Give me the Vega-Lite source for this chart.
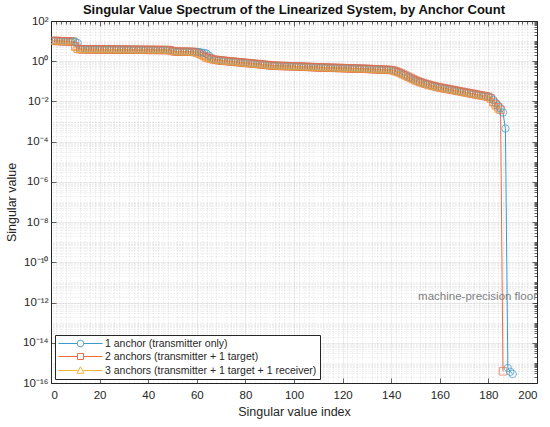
{
  "$schema": "https://vega.github.io/schema/vega-lite/v6.json",
  "width": 486,
  "height": 362,
  "autosize": "none",
  "padding": {"left": 51, "top": 21, "right": 13, "bottom": 44},
  "background": "white",
  "config": {
    "font": "Liberation Sans",
    "view": {"stroke": "#262626", "strokeWidth": 1},
    "axis": {
      "domain": false,
      "labelFontSize": 11.5,
      "labelColor": "#262626",
      "titleFontSize": 12.5,
      "titleFontWeight": "normal",
      "titleColor": "#262626",
      "tickColor": "#262626",
      "tickWidth": 0.7,
      "gridColor": "#262626"
    }
  },
  "title": {
    "text": "Singular Value Spectrum of the Linearized System, by Anchor Count",
    "fontSize": 13,
    "fontWeight": "bold",
    "color": "#111111",
    "offset": -2
  },
  "datasets": {
    "sv": [
      {"i":1,"a":10.3,"b":10.3,"c":10.3},{"i":2,"a":10.2,"b":10.2,"c":10.2},{"i":3,"a":10.1,"b":10.1,"c":10.1},
      {"i":4,"a":10.0,"b":10.0,"c":10.0},{"i":5,"a":9.9,"b":9.9,"c":9.9},{"i":6,"a":9.8,"b":9.8,"c":9.8},
      {"i":7,"a":9.7,"b":9.7,"c":9.7},{"i":8,"a":9.6,"b":9.6,"c":9.6},{"i":9,"a":9.5,"b":9.5,"c":9.5},
      {"i":10,"a":9.3,"b":5.5,"c":5.0},{"i":11,"a":8.0,"b":4.1,"c":4.0},
      {"i":12,"a":3.95,"b":3.95,"c":3.95},{"i":13,"a":3.94,"b":3.94,"c":3.94},{"i":14,"a":3.93,"b":3.93,"c":3.93},
      {"i":15,"a":3.92,"b":3.92,"c":3.92},{"i":16,"a":3.91,"b":3.91,"c":3.91},{"i":17,"a":3.90,"b":3.90,"c":3.90},
      {"i":18,"a":3.89,"b":3.89,"c":3.89},{"i":19,"a":3.88,"b":3.88,"c":3.88},{"i":20,"a":3.87,"b":3.87,"c":3.87},
      {"i":21,"a":3.86,"b":3.86,"c":3.86},{"i":22,"a":3.85,"b":3.85,"c":3.85},{"i":23,"a":3.84,"b":3.84,"c":3.84},
      {"i":24,"a":3.83,"b":3.83,"c":3.83},{"i":25,"a":3.82,"b":3.82,"c":3.82},{"i":26,"a":3.81,"b":3.81,"c":3.81},
      {"i":27,"a":3.80,"b":3.80,"c":3.80},{"i":28,"a":3.79,"b":3.79,"c":3.79},{"i":29,"a":3.78,"b":3.78,"c":3.78},
      {"i":30,"a":3.77,"b":3.77,"c":3.77},{"i":31,"a":3.76,"b":3.76,"c":3.76},{"i":32,"a":3.75,"b":3.75,"c":3.75},
      {"i":33,"a":3.74,"b":3.74,"c":3.74},{"i":34,"a":3.73,"b":3.73,"c":3.73},{"i":35,"a":3.72,"b":3.72,"c":3.72},
      {"i":36,"a":3.71,"b":3.71,"c":3.71},{"i":37,"a":3.70,"b":3.70,"c":3.70},{"i":38,"a":3.69,"b":3.69,"c":3.69},
      {"i":39,"a":3.68,"b":3.68,"c":3.68},{"i":40,"a":3.67,"b":3.67,"c":3.67},{"i":41,"a":3.66,"b":3.66,"c":3.66},
      {"i":42,"a":3.65,"b":3.65,"c":3.65},{"i":43,"a":3.64,"b":3.64,"c":3.64},{"i":44,"a":3.63,"b":3.63,"c":3.63},
      {"i":45,"a":3.62,"b":3.62,"c":3.62},{"i":46,"a":3.61,"b":3.61,"c":3.61},{"i":47,"a":3.60,"b":3.60,"c":3.60},
      {"i":48,"a":3.59,"b":3.59,"c":3.59},{"i":49,"a":3.58,"b":3.58,"c":3.58},{"i":50,"a":3.25,"b":3.2,"c":3.15},
      {"i":51,"a":3.05,"b":3.05,"c":3.03},{"i":52,"a":3.0,"b":3.0,"c":3.0},{"i":53,"a":2.99,"b":2.99,"c":2.99},
      {"i":54,"a":2.98,"b":2.98,"c":2.98},{"i":55,"a":2.97,"b":2.97,"c":2.97},{"i":56,"a":2.96,"b":2.96,"c":2.96},
      {"i":57,"a":2.95,"b":2.95,"c":2.95},{"i":58,"a":2.94,"b":2.94,"c":2.94},
      {"i":59,"a":2.92,"b":2.85,"c":2.8},{"i":60,"a":2.9,"b":2.7,"c":2.62},{"i":61,"a":2.8,"b":2.45,"c":2.38},
      {"i":62,"a":2.7,"b":2.1,"c":2.04},{"i":63,"a":2.6,"b":1.8,"c":1.75},{"i":64,"a":2.4,"b":1.55,"c":1.5},
      {"i":65,"a":1.9,"b":1.4,"c":1.36},{"i":66,"a":1.45,"b":1.3,"c":1.27},
      {"i":67,"a":1.22,"b":1.22,"c":1.22},{"i":68,"a":1.16,"b":1.16,"c":1.16},{"i":69,"a":1.12,"b":1.12,"c":1.12},
      {"i":70,"a":1.09,"b":1.09,"c":1.09},{"i":71,"a":1.06,"b":1.06,"c":1.06},{"i":72,"a":1.03,"b":1.03,"c":1.03},
      {"i":73,"a":1.0,"b":1.0,"c":1.0},{"i":74,"a":0.975,"b":0.975,"c":0.975},{"i":75,"a":0.95,"b":0.95,"c":0.95},
      {"i":76,"a":0.925,"b":0.925,"c":0.925},{"i":77,"a":0.9,"b":0.9,"c":0.9},{"i":78,"a":0.88,"b":0.88,"c":0.88},
      {"i":79,"a":0.855,"b":0.855,"c":0.855},{"i":80,"a":0.83,"b":0.83,"c":0.83},{"i":81,"a":0.81,"b":0.81,"c":0.81},
      {"i":82,"a":0.79,"b":0.79,"c":0.79},{"i":83,"a":0.77,"b":0.77,"c":0.77},{"i":84,"a":0.745,"b":0.745,"c":0.745},
      {"i":85,"a":0.725,"b":0.725,"c":0.725},{"i":86,"a":0.705,"b":0.705,"c":0.705},{"i":87,"a":0.685,"b":0.685,"c":0.685},
      {"i":88,"a":0.665,"b":0.665,"c":0.665},{"i":89,"a":0.645,"b":0.645,"c":0.645},{"i":90,"a":0.625,"b":0.625,"c":0.625},
      {"i":91,"a":0.61,"b":0.61,"c":0.61},{"i":92,"a":0.6,"b":0.6,"c":0.6},{"i":93,"a":0.59,"b":0.59,"c":0.59},
      {"i":94,"a":0.585,"b":0.585,"c":0.585},{"i":95,"a":0.58,"b":0.58,"c":0.58},{"i":96,"a":0.575,"b":0.575,"c":0.575},
      {"i":97,"a":0.57,"b":0.57,"c":0.57},{"i":98,"a":0.565,"b":0.565,"c":0.565},{"i":99,"a":0.56,"b":0.56,"c":0.56},
      {"i":100,"a":0.555,"b":0.555,"c":0.555},{"i":101,"a":0.549,"b":0.549,"c":0.549},{"i":102,"a":0.543,"b":0.543,"c":0.543},
      {"i":103,"a":0.537,"b":0.537,"c":0.537},{"i":104,"a":0.531,"b":0.531,"c":0.531},{"i":105,"a":0.525,"b":0.525,"c":0.525},
      {"i":106,"a":0.519,"b":0.519,"c":0.519},{"i":107,"a":0.513,"b":0.513,"c":0.513},{"i":108,"a":0.507,"b":0.507,"c":0.507},
      {"i":109,"a":0.501,"b":0.501,"c":0.501},{"i":110,"a":0.495,"b":0.495,"c":0.495},{"i":111,"a":0.491,"b":0.491,"c":0.491},
      {"i":112,"a":0.487,"b":0.487,"c":0.487},{"i":113,"a":0.483,"b":0.483,"c":0.483},{"i":114,"a":0.479,"b":0.479,"c":0.479},
      {"i":115,"a":0.475,"b":0.475,"c":0.475},{"i":116,"a":0.471,"b":0.471,"c":0.471},{"i":117,"a":0.467,"b":0.467,"c":0.467},
      {"i":118,"a":0.463,"b":0.463,"c":0.463},{"i":119,"a":0.459,"b":0.459,"c":0.459},{"i":120,"a":0.455,"b":0.455,"c":0.455},
      {"i":121,"a":0.451,"b":0.451,"c":0.451},{"i":122,"a":0.447,"b":0.447,"c":0.447},{"i":123,"a":0.443,"b":0.443,"c":0.443},
      {"i":124,"a":0.439,"b":0.439,"c":0.439},{"i":125,"a":0.435,"b":0.435,"c":0.435},{"i":126,"a":0.431,"b":0.431,"c":0.431},
      {"i":127,"a":0.427,"b":0.427,"c":0.427},{"i":128,"a":0.423,"b":0.423,"c":0.423},{"i":129,"a":0.419,"b":0.419,"c":0.419},
      {"i":130,"a":0.415,"b":0.415,"c":0.415},{"i":131,"a":0.41,"b":0.41,"c":0.41},{"i":132,"a":0.405,"b":0.405,"c":0.405},
      {"i":133,"a":0.4,"b":0.4,"c":0.4},{"i":134,"a":0.395,"b":0.395,"c":0.395},{"i":135,"a":0.39,"b":0.39,"c":0.39},
      {"i":136,"a":0.385,"b":0.385,"c":0.385},{"i":137,"a":0.38,"b":0.38,"c":0.38},{"i":138,"a":0.375,"b":0.375,"c":0.375},
      {"i":139,"a":0.37,"b":0.37,"c":0.37},{"i":140,"a":0.365,"b":0.365,"c":0.365},{"i":141,"a":0.345,"b":0.345,"c":0.345},
      {"i":142,"a":0.315,"b":0.315,"c":0.315},{"i":143,"a":0.283,"b":0.283,"c":0.283},{"i":144,"a":0.25,"b":0.25,"c":0.25},
      {"i":145,"a":0.22,"b":0.22,"c":0.22},{"i":146,"a":0.194,"b":0.194,"c":0.194},{"i":147,"a":0.17,"b":0.17,"c":0.17},
      {"i":148,"a":0.148,"b":0.148,"c":0.148},{"i":149,"a":0.129,"b":0.129,"c":0.129},{"i":150,"a":0.112,"b":0.112,"c":0.112},
      {"i":151,"a":0.1,"b":0.1,"c":0.1},{"i":152,"a":0.0912,"b":0.0912,"c":0.0912},{"i":153,"a":0.0832,"b":0.0832,"c":0.0832},
      {"i":154,"a":0.0759,"b":0.0759,"c":0.0759},{"i":155,"a":0.07,"b":0.07,"c":0.07},{"i":156,"a":0.0646,"b":0.0646,"c":0.0646},
      {"i":157,"a":0.0603,"b":0.0603,"c":0.0603},{"i":158,"a":0.0562,"b":0.0562,"c":0.0562},{"i":159,"a":0.0525,"b":0.0525,"c":0.0525},
      {"i":160,"a":0.049,"b":0.049,"c":0.049},{"i":161,"a":0.0468,"b":0.0468,"c":0.0468},{"i":162,"a":0.0443,"b":0.0443,"c":0.0443},
      {"i":163,"a":0.0421,"b":0.0421,"c":0.0421},{"i":164,"a":0.0398,"b":0.0398,"c":0.0398},{"i":165,"a":0.0378,"b":0.0378,"c":0.0378},
      {"i":166,"a":0.0358,"b":0.0358,"c":0.0358},{"i":167,"a":0.034,"b":0.034,"c":0.034},{"i":168,"a":0.0322,"b":0.0322,"c":0.0322},
      {"i":169,"a":0.0305,"b":0.0305,"c":0.0305},{"i":170,"a":0.029,"b":0.029,"c":0.029},{"i":171,"a":0.0275,"b":0.0275,"c":0.0275},
      {"i":172,"a":0.026,"b":0.026,"c":0.026},{"i":173,"a":0.0247,"b":0.0247,"c":0.0247},{"i":174,"a":0.0234,"b":0.0234,"c":0.0234},
      {"i":175,"a":0.0222,"b":0.0222,"c":0.0222},{"i":176,"a":0.021,"b":0.021,"c":0.021},{"i":177,"a":0.02,"b":0.02,"c":0.02},
      {"i":178,"a":0.019,"b":0.019,"c":0.019},{"i":179,"a":0.018,"b":0.018,"c":0.018},{"i":180,"a":0.017,"b":0.017,"c":0.017},
      {"i":181,"a":0.0155,"b":0.014,"c":0.013},{"i":182,"a":0.012,"b":0.0095,"c":0.0085},{"i":183,"a":0.0085,"b":0.007,"c":0.006},
      {"i":184,"a":0.0062,"b":0.0052,"c":0.0042},{"i":185,"a":0.0045,"b":0.0038},{"i":186,"a":0.0028,"b":3.8e-16},
      {"i":187,"a":0.00045},{"i":188,"a":5.6e-16},{"i":189,"a":3.6e-16},{"i":190,"a":2.8e-16}
    ]
  },
  "layer": [
    {
      "data": {"name": "sv"},
      "transform": [{"fold": ["a", "b", "c"], "as": ["s", "v"]}, {"filter": "isValid(datum.v)"}],
      "mark": {"type": "line", "strokeWidth": 1, "clip": true},
      "encoding": {
        "x": {
          "field": "i", "type": "quantitative",
          "scale": {"domain": [0, 200], "nice": false},
          "axis": {
            "orient": "bottom", "title": "Singular value index",
            "values": [0, 20, 40, 60, 80, 100, 120, 140, 160, 180, 200],
            "grid": true, "gridOpacity": 0.15, "gridWidth": 0.6,
            "tickSize": -5, "labelPadding": 11, "titlePadding": 5
          }
        },
        "y": {
          "field": "v", "type": "quantitative",
          "scale": {"type": "log", "domain": [1e-16, 100], "nice": false},
          "axis": {
            "orient": "left", "title": "Singular value",
            "values": [1e-16, 1e-14, 1e-12, 1e-10, 1e-8, 1e-6, 1e-4, 1e-2, 1, 100],
            "labelExpr": "datum.value > 50 ? '10²' : datum.value > 0.5 ? '10⁰' : datum.value > 5e-3 ? '10⁻²' : datum.value > 5e-5 ? '10⁻⁴' : datum.value > 5e-7 ? '10⁻⁶' : datum.value > 5e-9 ? '10⁻⁸' : datum.value > 5e-11 ? '10⁻¹⁰' : datum.value > 5e-13 ? '10⁻¹²' : datum.value > 5e-15 ? '10⁻¹⁴' : '10⁻¹⁶'",
            "grid": true, "gridOpacity": 0.15, "gridWidth": 0.6,
            "tickSize": -5, "labelPadding": 8, "titlePadding": 4
          }
        },
        "color": {
          "field": "s", "type": "nominal",
          "scale": {"domain": ["a", "b", "c"], "range": ["#3B9ACB", "#EE6B45", "#F2B33D"]},
          "legend": null
        }
      }
    },
    {
      "data": {"name": "sv"},
      "transform": [{"fold": ["a", "b", "c"], "as": ["s", "v"]}, {"filter": "isValid(datum.v)"}],
      "mark": {"type": "point", "filled": false, "size": 55, "strokeWidth": 1, "clip": true},
      "encoding": {
        "x": {
          "field": "i", "type": "quantitative",
          "axis": {"orient": "top", "title": null, "labels": false, "grid": false,
                   "values": [0, 20, 40, 60, 80, 100, 120, 140, 160, 180, 200], "tickSize": -5}
        },
        "y": {
          "field": "v", "type": "quantitative",
          "axis": {"orient": "right", "title": null, "labels": false, "grid": false,
                   "values": [1e-16, 1e-14, 1e-12, 1e-10, 1e-8, 1e-6, 1e-4, 1e-2, 1, 100], "tickSize": -5}
        },
        "color": {"field": "s", "type": "nominal", "legend": null},
        "shape": {
          "field": "s", "type": "nominal",
          "scale": {"domain": ["a", "b", "c"], "range": ["circle", "square", "triangle-up"]},
          "legend": null
        }
      }
    },
    {
      "data": {"values": [{"i": 200, "v": 2e-12, "t": "machine-precision floor"}]},
      "mark": {"type": "text", "align": "right", "baseline": "middle", "color": "#7f7f7f", "fontSize": 11.5},
      "encoding": {
        "x": {
          "field": "i", "type": "quantitative",
          "axis": {
            "orient": "top", "title": null, "labels": false,
            "grid": true, "gridOpacity": 0.22, "gridDash": [1, 2], "gridWidth": 0.6, "tickSize": -3,
            "values": [2,4,6,8,12,14,16,18,22,24,26,28,32,34,36,38,42,44,46,48,52,54,56,58,62,64,66,68,72,74,76,78,82,84,86,88,92,94,96,98,102,104,106,108,112,114,116,118,122,124,126,128,132,134,136,138,142,144,146,148,152,154,156,158,162,164,166,168,172,174,176,178,182,184,186,188,192,194,196,198]
          }
        },
        "y": {
          "field": "v", "type": "quantitative",
          "axis": {
            "orient": "right", "title": null, "labels": false,
            "grid": true, "gridOpacity": 0.22, "gridDash": [1, 2], "gridWidth": 0.6, "tickSize": -3,
            "values": [2e-16,3e-16,4e-16,5e-16,6e-16,7e-16,8e-16,9e-16,1e-15,2e-15,3e-15,4e-15,5e-15,6e-15,7e-15,8e-15,9e-15,2e-14,3e-14,4e-14,5e-14,6e-14,7e-14,8e-14,9e-14,1e-13,2e-13,3e-13,4e-13,5e-13,6e-13,7e-13,8e-13,9e-13,2e-12,3e-12,4e-12,5e-12,6e-12,7e-12,8e-12,9e-12,1e-11,2e-11,3e-11,4e-11,5e-11,6e-11,7e-11,8e-11,9e-11,2e-10,3e-10,4e-10,5e-10,6e-10,7e-10,8e-10,9e-10,1e-9,2e-9,3e-9,4e-9,5e-9,6e-9,7e-9,8e-9,9e-9,2e-8,3e-8,4e-8,5e-8,6e-8,7e-8,8e-8,9e-8,1e-7,2e-7,3e-7,4e-7,5e-7,6e-7,7e-7,8e-7,9e-7,2e-6,3e-6,4e-6,5e-6,6e-6,7e-6,8e-6,9e-6,1e-5,2e-5,3e-5,4e-5,5e-5,6e-5,7e-5,8e-5,9e-5,2e-4,3e-4,4e-4,5e-4,6e-4,7e-4,8e-4,9e-4,1e-3,2e-3,3e-3,4e-3,5e-3,6e-3,7e-3,8e-3,9e-3,0.02,0.03,0.04,0.05,0.06,0.07,0.08,0.09,0.1,0.2,0.3,0.4,0.5,0.6,0.7,0.8,0.9,2,3,4,5,6,7,8,9,10,20,30,40,50,60,70,80,90]
          }
        },
        "text": {"field": "t"}
      }
    },
    {
      "data": {"name": "sv"},
      "transform": [{"fold": ["a", "b", "c"], "as": ["s", "v"]}, {"filter": "isValid(datum.v)"}],
      "mark": {"type": "point", "filled": false, "opacity": 0},
      "encoding": {
        "x": {"field": "i", "type": "quantitative", "axis": null},
        "y": {"field": "v", "type": "quantitative", "axis": null},
        "color": {
          "field": "s", "type": "nominal",
          "legend": {
            "title": null, "orient": "bottom-left", "offset": 4,
            "labelExpr": "datum.value == 'a' ? '1 anchor (transmitter only)' : datum.value == 'b' ? '2 anchors (transmitter + 1 target)' : '3 anchors (transmitter + 1 target + 1 receiver)'",
            "symbolSize": 100, "symbolStrokeWidth": 1, "symbolOpacity": 1, "symbolOffset": 17,
            "labelFontSize": 10.5, "labelColor": "#262626", "labelOffset": 19, "labelLimit": 400,
            "fillColor": "white", "strokeColor": "#262626", "padding": 3, "rowPadding": 2
          }
        },
        "shape": {
          "field": "s", "type": "nominal",
          "scale": {
            "domain": ["a", "b", "c"],
            "range": [
              "M-4.4,0H-0.66M0.66,0H4.4M0.66,0A0.66,0.66,0,1,1,-0.66,0A0.66,0.66,0,1,1,0.66,0Z",
              "M-4.4,0H-0.6M0.6,0H4.4M-0.6,-0.6H0.6V0.6H-0.6Z",
              "M-4.4,0H-0.55M0.55,0H4.4M0,-0.75L0.7,0.55L-0.7,0.55Z"
            ]
          },
          "legend": {
            "title": null, "orient": "bottom-left", "offset": 4,
            "labelExpr": "datum.value == 'a' ? '1 anchor (transmitter only)' : datum.value == 'b' ? '2 anchors (transmitter + 1 target)' : '3 anchors (transmitter + 1 target + 1 receiver)'",
            "symbolSize": 100, "symbolStrokeWidth": 1, "symbolOpacity": 1, "symbolOffset": 17,
            "labelFontSize": 10.5, "labelColor": "#262626", "labelOffset": 19, "labelLimit": 400,
            "fillColor": "white", "strokeColor": "#262626", "padding": 3, "rowPadding": 2
          }
        }
      }
    }
  ],
  "resolve": {
    "scale": {"shape": "independent"},
    "axis": {"x": "independent", "y": "independent"},
    "legend": {"color": "independent", "shape": "independent"}
  }
}
